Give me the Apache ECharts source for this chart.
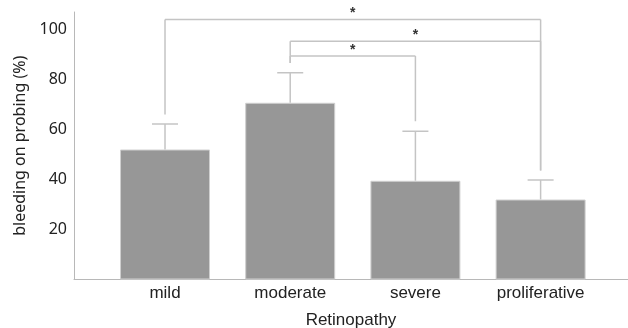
<!DOCTYPE html>
<html>
<head>
<meta charset="utf-8">
<script src="https://cdn.jsdelivr.net/npm/echarts@6/dist/echarts.min.js"></script>
<style>
  html, body { margin: 0; padding: 0; background: #fff; }
  #chart { width: 628px; height: 328px; }
</style>
</head>
<body>
<div id="chart"></div>
<script>
const categories = ['mild', 'moderate', 'severe', 'proliferative'];
const means = [52, 70.7, 39.5, 32];
const upperErr = [62.2, 82.7, 59.3, 39.8];
const yTicks = [20, 40, 60, 80, 100];

// significance brackets: from category, to category, bracket height, leg ends
const bracketFrom = [0, 1, 1];
const bracketTo = [3, 3, 2];
const bracketY = [104, 95.3, 89.4];
const legFromEnd = [66, 86.6, 86.6];
const legToEnd = [43.6, 43.6, 63.3];
const bracketMark = ['*', '*', '*'];

const lineGray = '#c4c4c4';

const chart = echarts.init(document.getElementById('chart'));

const barData = means.map((v, i) => [i, v]);
const errData = means.map((v, i) => [i, v, upperErr[i]]);
const bracketData = bracketFrom.map((f, i) => [f, bracketTo[i], bracketY[i], legFromEnd[i], legToEnd[i]]);

const option = {
  animation: false,
  grid: {
    left: 74,
    right: 0,
    top: 12,
    bottom: 48.5,
    containLabel: false,
    outerBoundsMode: 'none'
  },
  xAxis: {
    type: 'value',
    min: -0.727,
    max: 3.698,
    name: 'Retinopathy',
    nameLocation: 'middle',
    nameGap: 32,
    nameTextStyle: {
      fontFamily: 'Liberation Sans',
      fontSize: 17,
      color: '#222'
    },
    axisLine: {
      onZero: false,
      lineStyle: { color: '#b8b8b8', width: 1 }
    },
    axisTick: { show: false },
    splitLine: { show: false },
    axisLabel: {
      customValues: [0, 1, 2, 3],
      formatter: v => categories[Math.round(v)],
      fontFamily: 'Liberation Sans',
      fontSize: 17,
      color: '#222',
      margin: 5
    }
  },
  yAxis: {
    type: 'value',
    min: 0,
    max: 107,
    name: 'bleeding on probing (%)',
    nameLocation: 'middle',
    nameGap: 45,
    nameTextStyle: {
      fontFamily: 'Noto Sans',
      fontSize: 16,
      color: '#222'
    },
    axisLine: {
      show: true,
      onZero: false,
      lineStyle: { color: '#b8b8b8', width: 1 }
    },
    axisTick: { show: false },
    splitLine: { show: false },
    axisLabel: {
      customValues: yTicks,
      fontFamily: 'Noto Sans',
      fontSize: 16,
      color: '#222',
      margin: 7
    }
  },
  series: [
    {
      type: 'bar',
      data: barData,
      barWidth: 90,
      itemStyle: {
        color: '#979797',
        borderColor: '#d0d0d0',
        borderWidth: 1
      }
    },
    {
      type: 'custom',
      data: errData,
      encode: { x: 0, y: [1, 2] },
      renderItem: function (params, api) {
        const base = api.coord([api.value(0), api.value(1)]);
        const top = api.coord([api.value(0), api.value(2)]);
        const half = 13;
        const style = { stroke: lineGray, lineWidth: 1.5 };
        return {
          type: 'group',
          children: [
            { type: 'line', shape: { x1: base[0], y1: base[1], x2: top[0], y2: top[1] }, style },
            { type: 'line', shape: { x1: top[0] - half, y1: top[1], x2: top[0] + half, y2: top[1] }, style }
          ]
        };
      },
      z: 3
    },
    {
      type: 'custom',
      data: bracketData,
      encode: { x: [0, 1], y: [2, 3, 4] },
      renderItem: function (params, api) {
        const i = params.dataIndex;
        const a = api.coord([api.value(0), api.value(2)]);
        const b = api.coord([api.value(1), api.value(2)]);
        const aEnd = api.coord([api.value(0), api.value(3)]);
        const bEnd = api.coord([api.value(1), api.value(4)]);
        const style = { stroke: lineGray, lineWidth: 1.5 };
        return {
          type: 'group',
          children: [
            { type: 'line', shape: { x1: a[0], y1: a[1], x2: b[0], y2: b[1] }, style },
            { type: 'line', shape: { x1: a[0], y1: a[1], x2: aEnd[0], y2: aEnd[1] }, style },
            { type: 'line', shape: { x1: b[0], y1: b[1], x2: bEnd[0], y2: bEnd[1] }, style },
            {
              type: 'text',
              x: (a[0] + b[0]) / 2,
              y: a[1] + 1,
              style: {
                text: bracketMark[i],
                fill: '#333',
                font: 'bold 14px "Liberation Sans"',
                align: 'center',
                verticalAlign: 'bottom'
              }
            }
          ]
        };
      },
      z: 3
    }
  ]
};

chart.setOption(option);
</script>
</body>
</html>
